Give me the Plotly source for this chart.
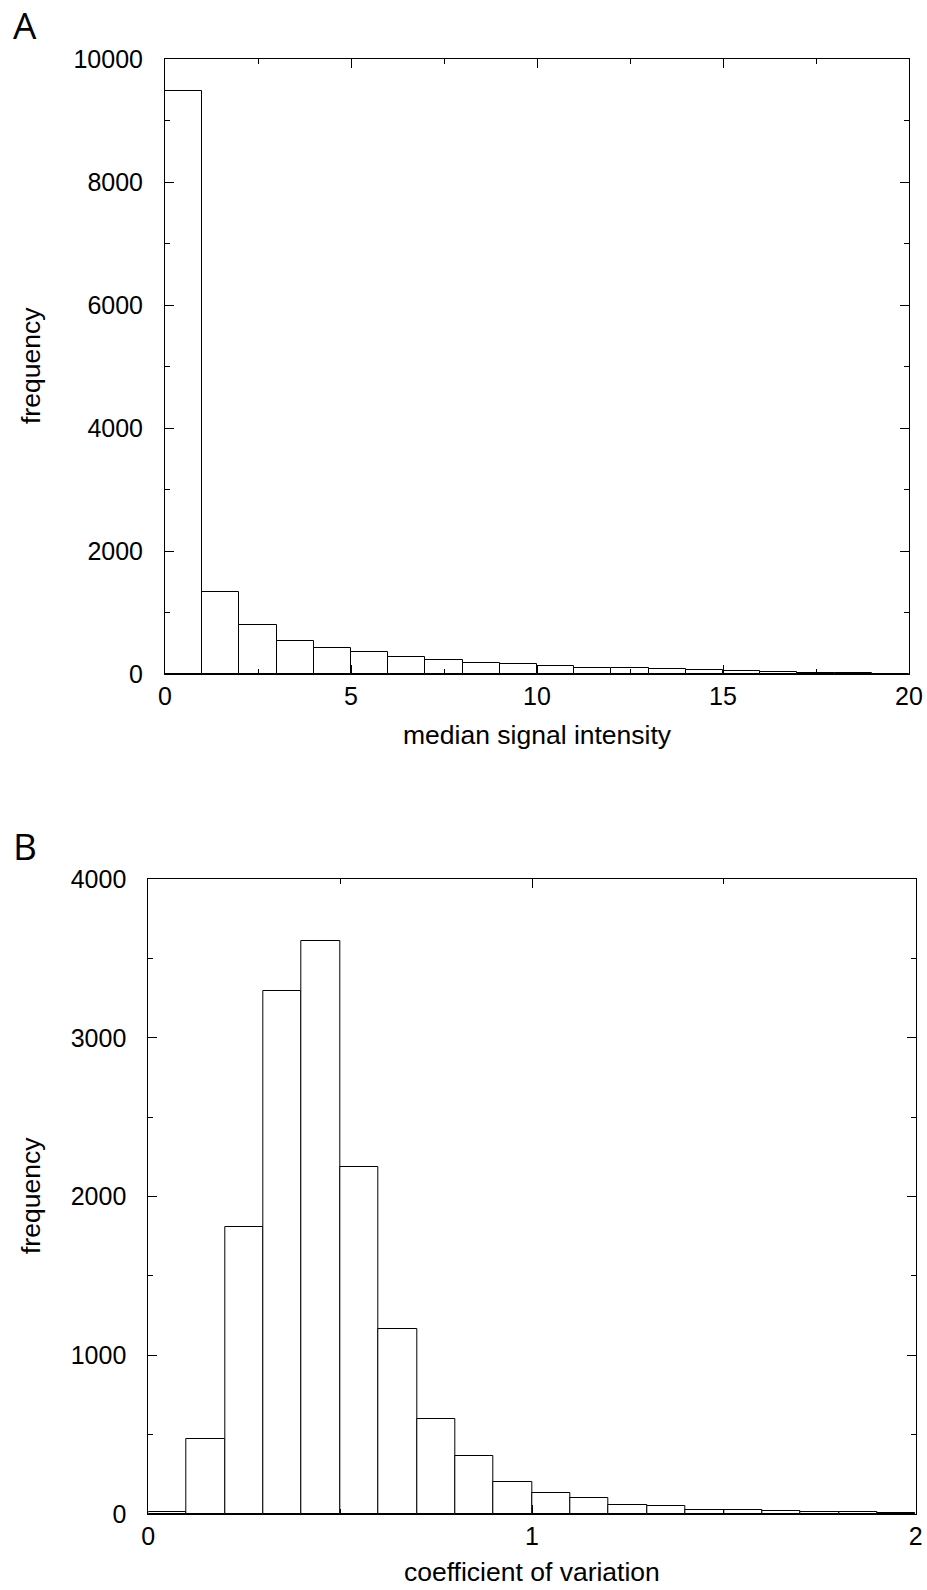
import plotly.graph_objects as go

W, H = 927, 1590

# Panel A: median signal intensity histogram (bin width 1)
a_bin_left = list(range(0, 20))
a_counts = [9480, 1338, 792, 532, 418, 353, 276, 233, 179, 157,
            125, 103, 92, 81, 65, 43, 27, 20, 10, 5]
a_bin_width = 1

# Panel B: coefficient of variation histogram (bin width 0.1)
b_bin_left = [round(0.1 * i, 1) for i in range(20)]
b_counts = [10, 472, 1806, 3296, 3607, 2184, 1165, 601, 365, 201,
            134, 103, 59, 53, 28, 25, 18, 14, 12, 5]
b_bin_width = 0.1

a_xticks = [0, 5, 10, 15, 20]
a_yticks = [0, 2000, 4000, 6000, 8000, 10000]
b_xticks = [0, 1, 2]
b_yticks = [0, 1000, 2000, 3000, 4000]

FONT = "Liberation Sans, Arial, Helvetica, sans-serif"

def px_x(p):
    return p / W

def px_y(p):
    return 1 - p / H

fig = go.Figure()

fig.add_trace(go.Bar(x=a_bin_left, y=a_counts, width=a_bin_width, offset=0,
                     marker=dict(color="white", line=dict(color="black", width=1)),
                     xaxis="x", yaxis="y", showlegend=False))
fig.add_trace(go.Bar(x=b_bin_left, y=b_counts, width=b_bin_width, offset=0,
                     marker=dict(color="white", line=dict(color="black", width=1)),
                     xaxis="x2", yaxis="y2", showlegend=False))

def axis_common(rng, tickvals, minor_dtick, domain, anchor, standoff):
    return dict(range=rng, tickvals=tickvals, ticktext=[str(v) for v in tickvals],
                domain=domain, anchor=anchor,
                showline=True, linecolor="black", linewidth=1, mirror="ticks",
                ticks="inside", ticklen=9, tickwidth=1, tickcolor="black",
                minor=dict(ticks="inside", ticklen=5, tickwidth=1, tickcolor="black",
                           dtick=minor_dtick, showgrid=False),
                showgrid=False, zeroline=False, automargin=False,
                tickfont=dict(family=FONT, size=25, color="black"),
                ticklabelstandoff=standoff, fixedrange=True)

a_xdom = [px_x(165), px_x(909)]
a_ydom = [px_y(674), px_y(59)]
b_xdom = [px_x(148.3), px_x(915.7)]
b_ydom = [px_y(1514), px_y(879)]

fig.update_layout(
    width=W, height=H,
    margin=dict(l=0, r=0, t=0, b=0),
    paper_bgcolor="white", plot_bgcolor="white",
    bargap=0,
    xaxis=axis_common([0, 20], a_xticks, 2.5, a_xdom, "y", 0),
    yaxis=axis_common([0, 10000], a_yticks, 1000, a_ydom, "x", 16),
    xaxis2=axis_common([0, 2], b_xticks, 0.5, b_xdom, "y2", 0),
    yaxis2=axis_common([0, 4000], b_yticks, 500, b_ydom, "x2", 16),
)

ann_font = dict(family=FONT, size=26.5, color="black")
annotations = [
    dict(text="A", x=px_x(11), y=px_y(25), xanchor="left", yanchor="middle",
         font=dict(family="Open Sans, sans-serif", size=37, color="black")),
    dict(text="B", x=px_x(11), y=px_y(845), xanchor="left", yanchor="middle",
         font=dict(family="Open Sans, sans-serif", size=37, color="black")),
    dict(text="median signal intensity", x=px_x(537), y=px_y(735),
         xanchor="center", yanchor="middle", font=ann_font),
    dict(text="coefficient of variation", x=px_x(532), y=px_y(1572),
         xanchor="center", yanchor="middle", font=ann_font, borderpad=0),
    dict(text="frequency", x=px_x(31), y=px_y(366), textangle=-90,
         xanchor="center", yanchor="middle", font=ann_font),
    dict(text="frequency", x=px_x(31), y=px_y(1196), textangle=-90,
         xanchor="center", yanchor="middle", font=ann_font),
]
for a in annotations:
    a.update(xref="paper", yref="paper", showarrow=False)
fig.update_layout(annotations=annotations)

fig.write_html("out.html")
